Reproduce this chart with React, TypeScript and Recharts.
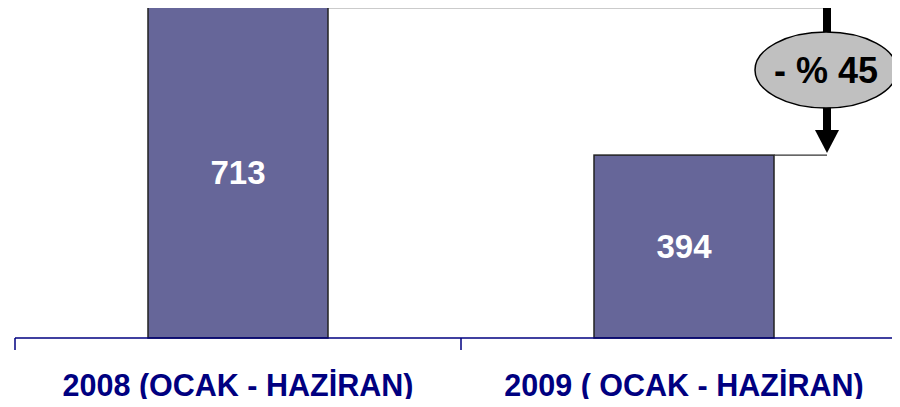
import { Bar, BarChart, LabelList, XAxis, YAxis } from 'recharts';

const periods = ['2008 (OCAK - HAZİRAN)', '2009 ( OCAK - HAZİRAN)'];
const totals = [713, 394];

const data = periods.map((period, i) => ({ period, total: totals[i] }));

const CHART_W = 910;
const CHART_H = 407;
const AXIS_H = 69;
const MARGIN = { top: 7, right: 3, left: 15, bottom: 0 };
const BAND = (CHART_W - MARGIN.left - MARGIN.right) / periods.length;
const NAVY = '#000080';
const FONT = '"Liberation Sans", Arial, sans-serif';

const change = Math.round((1 - totals[1] / totals[0]) * 100);

function BarShape(props: any) {
  const { x, y, width, height, index } = props;
  const rect = <rect x={x} y={y} width={width} height={height} fill="#666699" stroke="#222" strokeWidth={1.5} />;
  if (index !== totals.length - 1) return rect;

  // arrow from previous bar top to this bar top
  const base = y + height;
  const pxPerUnit = height / totals[index];
  const prevTop = base - totals[0] * pxPerUnit;
  const prevRight = x + width - BAND;
  const ax = x + width + 53;
  const ey = prevTop + 63;
  const headTop = y - 25;
  return (
    <g>
      {rect}
      <path d={`M${prevRight},${prevTop + 0.5}H${ax}`} stroke="#333" strokeWidth={1.3} fill="none" />
      <path d={`M${x + width},${y}H${ax}`} stroke="#333" strokeWidth={1.3} fill="none" />
      <rect x={ax - 4} y={prevTop} width={8} height={headTop - prevTop} fill="#000" />
      <polygon points={`${ax - 12},${headTop} ${ax + 12},${headTop} ${ax},${y - 2}`} fill="#000" />
      <ellipse cx={ax - 1} cy={ey} rx={71} ry={38} fill="#c0c0c0" stroke="#000" strokeWidth={1.5} />
      <text x={ax - 1} y={ey + 13} textAnchor="middle" fontFamily={FONT} fontWeight="bold" fontSize={36} fill="#000">
        {`- % ${change}`}
      </text>
    </g>
  );
}

function PeriodTick(props: any) {
  const { x, y, payload } = props;
  return (
    <g>
      <line x1={x - BAND / 2} y1={y} x2={x - BAND / 2} y2={y + 12} stroke={NAVY} strokeWidth={1.5} />
      <text x={x} y={y + 58} textAnchor="middle" fontFamily={FONT} fontWeight="bold" fontSize={30.5} fill={NAVY}>
        {payload.value}
      </text>
    </g>
  );
}

export default function App() {
  return (
    <div style={{ margin: -8, width: 900, height: CHART_H, overflow: 'hidden', background: '#fff' }}>
      <BarChart width={CHART_W} height={CHART_H} data={data} margin={MARGIN}>
        <XAxis
          dataKey="period"
          height={AXIS_H}
          tickLine={false}
          tickSize={0}
          tickMargin={0}
          axisLine={{ stroke: NAVY, strokeWidth: 1.5 }}
          tick={<PeriodTick />}
          interval={0}
        />
        <YAxis hide domain={[0, totals[0]]} />
        <Bar dataKey="total" barSize={180} shape={<BarShape />} isAnimationActive={false}>
          <LabelList dataKey="total" position="center" fill="#fff" fontFamily={FONT} fontWeight="bold" fontSize={33} />
        </Bar>
      </BarChart>
    </div>
  );
}
